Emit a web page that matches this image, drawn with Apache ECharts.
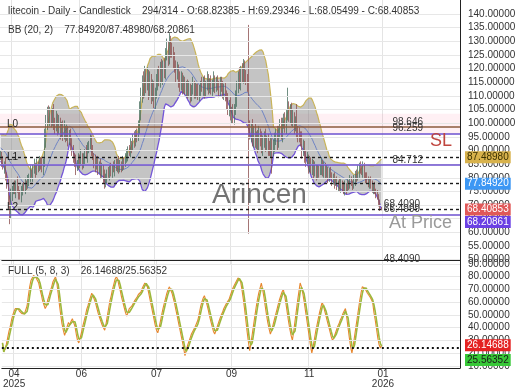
<!DOCTYPE html>
<html><head><meta charset="utf-8">
<script src="https://cdn.jsdelivr.net/npm/echarts@6/dist/echarts.min.js"></script>
<style>html,body{margin:0;padding:0;background:#fff}#c{width:520px;height:390px}</style>
</head><body><div id="c"></div>
<script>
// ---------- data ----------
const priorCloses = [94,92,95,93,90,94,92,88,91,94,90,88,92,89,93,90,87,90,88];
const closes = [
88,86,84,85,81,
78,72,67,73,
76,77,75,78,76,74,73,75,77,76,78,77,
79,80,82,81,83,84,82,85,84,86,85,83,86,
94,100,104,102,103,
101,104,100,99,102,98,100,97,99,96,98,95,97,94,96,93,
90,88,86,84,85,
87,86,88,85,87,89,88,91,92,
94,90,88,
86,84,86,83,85,82,84,81,
78,80,82,81,
83,82,84,83,85,84,86,83,85,84,86,85,87,
88,90,89,92,91,94,93,96,95,98,
104,110,115,112,118,
114,117,112,116,110,113,108,111,115,118,116,120,117,121,119,
125,128,124,130,127,126,123,121,
118,120,116,114,117,113,115,112,114,111,113,110,112,114,111,113,112,110,
112,114,113,115,111,114,116,113,115,112,114,116,113,115,114,112,115,113,111,113,110,
108,105,107,103,104,102,105,
109,113,117,115,119,117,121,118,116,114,
98,
96,98,94,97,93,95,92,96,94,91,
93,95,92,94,91,90,93,
90,
92,94,96,93,97,99,96,100,101,99,103,105,
103,105,101,102,99,100,97,96,95,
94,90,92,
88,86,87,84,86,83,85,82,84,81,83,82,
83,85,82,84,81,83,80,82,81,79,
80,78,79,77,78,76,78,77,75,77,76,78,77,79,78,77,
79,81,80,82,84,83,82,84,81,80,79,
78,79,77,76,77,75,74,73,
71,68.82385,68.40853
];
const upWick = [
2,1.5,2,1,2.5,1,2,1.5,3,1,
1.5,2,1,2.5,1,1.5,2,1,1.5,2,
1,2,1.5,2.5,1,2,3,1.5,2,1,
2,1.5,2.5,1,4,3,2,2.5,3,2,
1.5,3,2,2.5,1.5,3,2,1.5,2,3,
1,2.5,2,1.5,2,1.5,2,1,2.5,1.5,
2,1.5,2.5,1,2,1.5,3,2,1.5,2,
1.5,2,1,2.5,1.5,2,1,2,1.5,1,
2,1.5,1,2,1.5,2.5,1,2,1.5,2,
1,2,1.5,1,2,1.5,2,2.5,1.5,2,
2.5,1.5,2,3,1.5,2,3,4,3,2.5,
4,3,2,3.5,2.5,3,2,3,2.5,2,
3,2,3,2.5,3.5,2,3,2.5,3,2,
3,2,2.5,2,3,2,2.5,1.5,3,2,
1.5,2.5,2,1.5,2,2.5,1.5,2,3,1.5,
2,1.5,2.5,2,1.5,3,2,2.5,1.5,3,
2,1.5,2.5,2,3,1.5,2,2.5,1.5,2,
2,2.5,1.5,2,2,3,1.5,2.5,2,3,
2,3,2.5,2,3.5,2,3,2.5,2,1.5,
2,22,3,2,3.5,2,3,2,2.5,3,
2,3,2.5,2,3,1.5,2,2.5,2,1.5,
2,2.5,2,3,2,2.5,3,2,2.5,3,
2,8,3,2,2.5,3,2,2.5,7,2,
2.5,2,3,2,1.5,2,2.5,1.5,2,1.5,
2,1.5,2,1,2,1.5,2,2.5,1.5,2,
1.5,2,1,1.5,2,1,1.5,2,1,1.5,
1,2,1.5,1,1.5,2,1,1.5,1,2,
1.5,1,2,1.5,2,2.5,1.5,2,1.5,2,
1.5,1,2,1.5,1,1.5,2,1,1.5,1,
1.5,1,1,0.46961
];
const dnWick = [
1.5,2,1,2.5,2,2,3,4,2,1.5,
2,1,2.5,1.5,2,1,2,1.5,1,2,
1.5,1,2,1.5,1,2.5,1.5,2,1,2,
1.5,2,1,2,2,3,2.5,2,3,2.5,
2,2.5,3,2,2.5,2,3,2,2.5,2,
2,1.5,2.5,2,3,2,2.5,2,3,1.5,
2,2.5,1.5,2,1.5,2,1,2.5,2,1.5,
2,1.5,2.5,2,1,2,1.5,2.5,2,3,
2,1.5,2,1,2,1.5,2,1,2.5,1.5,
2,1.5,1,2,1.5,2,1,1.5,2,1,
1.5,2,1,2,1.5,2,1.5,2,3,2.5,
3,2.5,3,2,3.5,2.5,3,2,2.5,3,
2,3,2.5,3,2,3,2.5,3,2,3,
2.5,3,2,3,2.5,3,2,3,2.5,2,
2.5,2,1.5,2.5,2,1.5,2.5,2,1.5,2,
2,2.5,1.5,2,2.5,1.5,3,2,1.5,2,
2.5,2,1.5,2,2.5,2,1.5,2,2.5,2,
1.5,2,2.5,2,3,2,2.5,2,3,2,
2.5,2,3,2,2.5,3,2,2.5,3,2,
2.5,38.5,2,3,2.5,3,2,2.5,3,2,
2.5,2,3,2,2.5,2,3,2,2.5,8.5,
2,2.5,2,3,2,2.5,2,3,2,2.5,
3,2,2.5,3,2,2.5,3,2,2.5,3,
2,2.5,3,2,2.5,2,1.5,2.5,2,1.5,
2,2.5,1.5,2,1.5,2,1,2,1.5,2,
1.5,1,2,1.5,1,2,1.5,2,1,1.5,
2,1,1.5,2,1,1.5,2,1,1.5,1,
1,1.5,1,2,1.5,1,2,1.5,1,2,
1.5,2,1,1.5,2,1,1.5,2,1,1.5,
1,1.5,1,0.35354
];
const stochK = [
28,21,23,27,32,37,41,46,50,53,55,
56,55,53,53,51,50,51,50,
57,65,72,77,79,
81,80,79,80,
75,70,66,61,58,55,
57,62,65,69,72,76,78,80,
75,67,58,50,43,38,34,
37,41,44,42,45,47,46,
41,35,30,28,
32,36,41,45,49,54,57,61,64,67,
66,62,59,55,51,48,45,42,40,38,
43,49,55,61,65,70,74,78,80,
78,73,69,64,60,56,52,49,
52,55,54,57,59,61,62,
64,66,65,68,71,73,75,76,
72,67,62,57,52,47,42,38,36,
40,45,50,55,59,63,67,70,72,
71,67,63,59,54,49,44,39,34,29,24,18,
22,26,29,32,35,37,39,41,42,
46,51,56,60,63,65,
62,58,54,49,45,41,37,35,
38,41,44,47,50,52,55,57,59,60,
62,65,68,71,73,75,77,79,80,
76,70,63,55,46,37,29,22,
28,35,42,49,56,62,67,71,75,
70,64,57,50,44,39,35,
38,42,46,50,54,58,62,65,68,70,
65,59,52,45,39,34,30,
37,45,53,61,68,75,
72,67,61,54,47,40,33,26,20,
25,31,37,42,47,52,56,60,
57,53,49,45,41,37,33,30,
32,35,38,41,43,46,48,51,53,55,
48,40,32,25,20,
26,33,40,47,54,61,67,72,
73,71,69,67,66,64,62,60,
52,46,39,32,26.54,24.0,26.14688
];
const totalSlots = 354;
const startDate = [2025, 2, 13];
const tickIdx = [9, 61, 119, 177, 237, 294];
const tickText = ['04\n2025', '06', '07', '09', '11', '01\n2026'];
const priceTicks = [50,55,60,65,70,75,80,85,90,95,100,105,110,115,120,125,130,135,140];
const stochTicks = [10,20,30,40,50,60,70,80,90];
const priceRange = [48.409, 145.13];
const stochRange = [8.35, 92.67];
const levelValues = [98.646, 96.259, 87.4898, 84.712, 77.8492, 68.409, 66.4999, 48.409];
const levelKinds  = ['brown','purple','dash','purple','dash','dash','purple','none'];
const levelTexts  = ['98.646','96.259','','84.712','','68.4090','66.4999','48.4090'];
const levelTags   = ['L0','','L1','','','L2','',''];
const levelNotes  = ['','SL','','','','','At Price',''];
const slZone = [96.259, 103.5];
const priceTagValues = [87.4898, 77.8492, 68.40853, 68.20861];
const priceTagTexts  = ['87.48980','77.84920','68.40853','68.20861'];
const priceTagBg     = ['#d8b24c','#3c97f4','#e05858','#6b40e4'];
const priceTagFg     = ['#3a3000','#ffffff','#ffffff','#ffffff'];
const priceTagShift  = [0, 0, 0, 12];
const stochLevel = 24;
const stochTagValues = [26.14688, 25.56352];
const stochTagTexts  = ['26.14688','25.56352'];
const stochTagBg     = ['#e42222','#38c838'];
const stochTagFg     = ['#ffffff','#1a1a1a'];
const stochTagShift  = [0, 14];
const titleText = 'litecoin - Daily - Candlestick    294/314 - O:68.82385 - H:69.29346 - L:68.05499 - C:68.40853';
const bbText = 'BB (20, 2)    77.84920/87.48980/68.20861';
const stochText = 'FULL (5, 8, 3)    26.14688/25.56352';

// ---------- derived ----------
const FONT = '"Liberation Sans", Arial, sans-serif';
const cats = [];
const d0 = Date.UTC(startDate[0], startDate[1], startDate[2]);
for (let i = 0; i < totalSlots; i++) cats.push(new Date(d0 + i * 86400000).toISOString().slice(0, 10));

const ohlc = closes.map((c, i) => {
  const o = i === 0 ? priorCloses[priorCloses.length - 1] : closes[i - 1];
  return [o, c, Math.min(o, c) - dnWick[i], Math.max(o, c) + upWick[i]];
});
const all = priorCloses.concat(closes);
const bbMid = [], bbUp = [], bbLo = [], bbDiff = [];
for (let i = 0; i < closes.length; i++) {
  const w = all.slice(i, i + 20);
  const m = w.reduce((a, b) => a + b, 0) / 20;
  const sd = Math.sqrt(w.reduce((a, b) => a + (b - m) * (b - m), 0) / 20);
  bbMid.push(m); bbUp.push(m + 2 * sd); bbLo.push(m - 2 * sd); bbDiff.push(4 * sd);
}
const stochD = stochK.map((v, i) => i < 2 ? v : (stochK[i] + stochK[i - 1] + stochK[i - 2]) / 3);

const hidden = {color: 'rgba(0,0,0,0)', width: 1, type: 'solid'};
const styles = {
  brown: {color: '#8d5b3e', width: 1.5, type: 'solid'},
  purple: {color: '#6c50cf', width: 1.5, type: 'solid'},
  dash: {color: '#1a1a1a', width: 1.4, type: [3, 3]},
  none: hidden
};
const levelData = [];
levelValues.forEach((v, i) => {
  levelData.push({yAxis: v, lineStyle: styles[levelKinds[i]],
    label: {show: !!levelTexts[i], position: 'insideEndTop', distance: [levelTexts[i].length > 6 ? 40 : 37, 0],
      formatter: levelTexts[i], color: '#333', fontSize: 10, fontFamily: FONT}});
  if (levelTags[i]) levelData.push({yAxis: v, lineStyle: hidden,
    label: {show: true, position: 'insideStartTop', distance: [7, levelTags[i] === 'L1' ? -5 : -2.5],
      formatter: levelTags[i], color: '#222', fontSize: 10, fontFamily: FONT}});
  if (levelNotes[i]) levelData.push({yAxis: v, lineStyle: hidden,
    label: {show: true, position: 'insideEndBottom', distance: [8, -1],
      formatter: levelNotes[i], color: levelNotes[i] === 'SL' ? '#c0463f' : '#9a9a9a', fontSize: 18, fontFamily: FONT}});
});
function tagData(vals, texts, bg, fg, shift) {
  return vals.map((v, i) => ({yAxis: v, lineStyle: hidden,
    label: {show: true, position: 'end', distance: 5, formatter: '{t|' + texts[i] + '}',
      padding: [shift[i] * 2, 0, 0, 0],
      rich: {t: {backgroundColor: bg[i], color: fg[i], fontSize: 10, fontFamily: FONT, padding: [1, 2, 1, 2]}}}}));
}
const tickFn = (idx) => tickIdx.indexOf(idx) >= 0;
const nulls = closes.map(() => null);

const option = {
  animation: false,
  grid: [
    {left: 0, top: 0, width: 460, height: 264},
    {left: 0, top: 260.5, width: 460, height: 107.5}
  ],
  xAxis: [
    {type: 'category', gridIndex: 0, data: cats, boundaryGap: true,
      axisLine: {show: false}, axisTick: {show: false}, axisLabel: {show: false},
      splitLine: {show: true, interval: tickFn, lineStyle: {color: '#e4e4e4', width: 1}}},
    {type: 'category', gridIndex: 1, data: cats, boundaryGap: true,
      axisLine: {show: true, lineStyle: {color: '#222', width: 1}}, axisTick: {show: false},
      axisLabel: {interval: tickFn, formatter: (v, i) => tickText[tickIdx.indexOf(i)], color: '#333', fontSize: 10, lineHeight: 10, margin: 1, fontFamily: FONT},
      splitLine: {show: true, interval: tickFn, lineStyle: {color: '#e4e4e4', width: 1}}},
    {type: 'category', gridIndex: 1, data: cats, position: 'top',
      axisLine: {show: true, lineStyle: {color: '#222', width: 1}}, axisTick: {show: false}, axisLabel: {show: false}, splitLine: {show: false}}
  ],
  yAxis: [
    {type: 'value', gridIndex: 0, position: 'right', min: priceRange[0], max: priceRange[1],
      axisLine: {show: true, lineStyle: {color: '#222', width: 1}}, axisTick: {show: false}, splitLine: {show: false},
      axisLabel: {customValues: priceTicks, color: '#333', fontSize: 10, fontFamily: FONT, margin: 8,
        formatter: (v) => v.toFixed(5)}},
    {type: 'value', gridIndex: 1, position: 'right', min: stochRange[0], max: stochRange[1],
      axisLine: {show: true, lineStyle: {color: '#222', width: 1}}, axisTick: {show: false}, splitLine: {show: false},
      axisLabel: {customValues: stochTicks, color: '#333', fontSize: 10, fontFamily: FONT, margin: 8,
        formatter: (v) => v.toFixed(5)}}
  ],
  series: [
    {type: 'line', name: 'grid0', xAxisIndex: 0, yAxisIndex: 0, data: nulls, silent: true, z: 0, symbol: 'none',
      markLine: {silent: true, symbol: ['none', 'none'], label: {show: false}, animation: false,
        lineStyle: {color: '#e7e7e7', width: 1, type: 'solid'}, data: priceTicks.map(v => ({yAxis: v}))}},
    {type: 'line', name: 'grid1', xAxisIndex: 1, yAxisIndex: 1, data: nulls, silent: true, z: 0, symbol: 'none',
      markLine: {silent: true, symbol: ['none', 'none'], label: {show: false}, animation: false,
        lineStyle: {color: '#e7e7e7', width: 1, type: 'solid'}, data: stochTicks.map(v => ({yAxis: v}))}},
    {type: 'line', name: 'bbBase', xAxisIndex: 0, yAxisIndex: 0, data: bbLo, stack: 'bb', symbol: 'none',
      lineStyle: {opacity: 0}, z: 1, silent: true},
    {type: 'line', name: 'bbFill', xAxisIndex: 0, yAxisIndex: 0, data: bbDiff, stack: 'bb', symbol: 'none',
      lineStyle: {opacity: 0}, areaStyle: {color: 'rgba(120,120,120,0.62)'}, z: 1, silent: true},
    {type: 'line', name: 'bbUp', xAxisIndex: 0, yAxisIndex: 0, data: bbUp, symbol: 'none',
      lineStyle: {color: '#c9b45a', width: 1.2}, z: 2, silent: true},
    {type: 'line', name: 'bbLo', xAxisIndex: 0, yAxisIndex: 0, data: bbLo, symbol: 'none',
      lineStyle: {color: '#7456d8', width: 1.3}, z: 2, silent: true},
    {type: 'line', name: 'bbMid', xAxisIndex: 0, yAxisIndex: 0, data: bbMid, symbol: 'none',
      lineStyle: {color: '#6f84c4', width: 1}, z: 2, silent: true},
    {type: 'candlestick', name: 'litecoin', xAxisIndex: 0, yAxisIndex: 0, data: ohlc, barWidth: 0.6, z: 3,
      itemStyle: {color: '#4d7263', color0: '#8e5252', borderColor: '#4d7263', borderColor0: '#8e5252', borderWidth: 0.8}},
    {type: 'line', name: 'levels', xAxisIndex: 0, yAxisIndex: 0, data: nulls, symbol: 'none', z: 4, clip: false, silent: true,
      markArea: {silent: true, itemStyle: {color: 'rgba(255,110,150,0.10)'}, data: [[{yAxis: slZone[0]}, {yAxis: slZone[1]}]]},
      markLine: {silent: true, symbol: ['none', 'none'], animation: false, data: levelData.concat(
        tagData(priceTagValues, priceTagTexts, priceTagBg, priceTagFg, priceTagShift))}},
    {type: 'line', name: '%K', xAxisIndex: 1, yAxisIndex: 1, data: stochK, symbol: 'none',
      lineStyle: {color: '#e8872e', width: 1.1}, z: 2, silent: true},
    {type: 'line', name: '%D', xAxisIndex: 1, yAxisIndex: 1, data: stochD, symbol: 'none', clip: false,
      lineStyle: {color: '#9cb83c', width: 1.6}, z: 3, silent: true,
      markLine: {silent: true, symbol: ['none', 'none'], animation: false, data: [
        {yAxis: stochLevel, lineStyle: {color: '#111', width: 2, type: [2, 3]}, label: {show: false}}
      ].concat(tagData(stochTagValues, stochTagTexts, stochTagBg, stochTagFg, stochTagShift))}}
  ],
  graphic: [
    {type: 'text', left: 8, top: 6, z: 10, style: {text: titleText, fill: '#333', font: '10px ' + FONT}},
    {type: 'text', left: 8, top: 25, z: 10, style: {text: bbText, fill: '#333', font: '10px ' + FONT}},
    {type: 'text', left: 8, top: 266, z: 10, style: {text: stochText, fill: '#333', font: '10px ' + FONT}},
    {type: 'text', left: 212, top: 181, z: 10, style: {text: 'Arincen', fill: 'rgba(100,100,100,0.9)', font: '28px ' + FONT}}
  ]
};
const chart = echarts.init(document.getElementById('c'), null, {renderer: 'canvas'});
chart.setOption(option);
</script>
</body></html>
